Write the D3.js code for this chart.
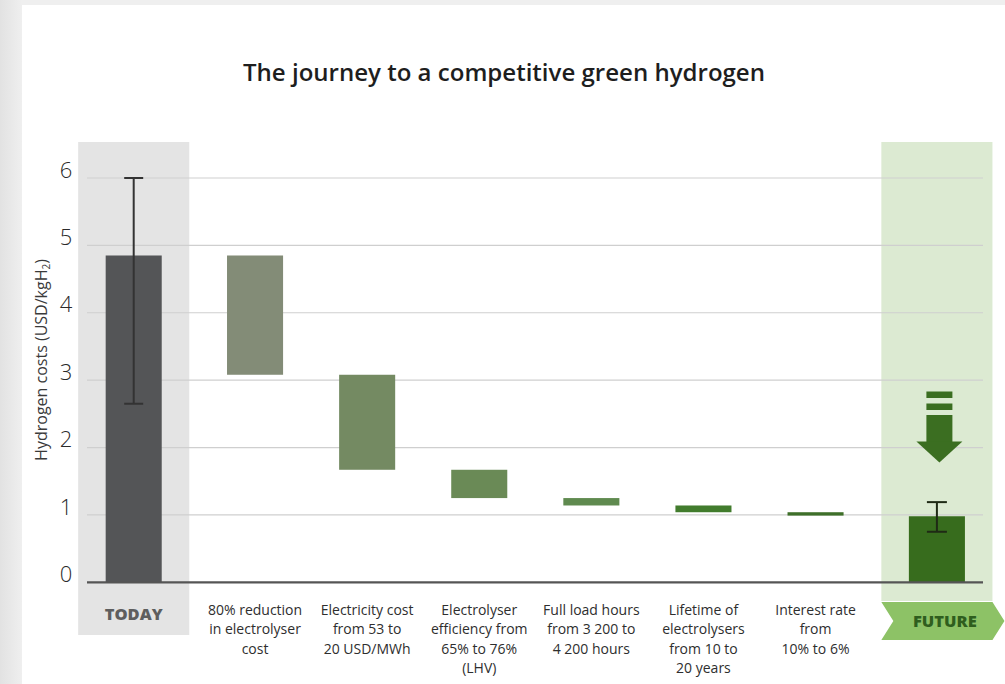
<!DOCTYPE html>
<html>
<head>
<meta charset="utf-8">
<script src="https://cdn.jsdelivr.net/npm/d3@7"></script>
<style>
  html, body { margin: 0; padding: 0; background: #ececec; }
  svg { display: block; }
</style>
</head>
<body>
<svg id="chart" width="1005" height="684"></svg>
<script>
// ---------- DATA ----------
const title = "The journey to a competitive green hydrogen";
const yTicks = [0, 1, 2, 3, 4, 5, 6];
const todayLabel = "TODAY";
const futureLabel = "FUTURE";
const todayValue = 4.85;
const todayRange = [2.65, 6.0];
const stepCategories = [
  ["80% reduction", "in electrolyser", "cost"],
  ["Electricity cost", "from 53 to", "20 USD/MWh"],
  ["Electrolyser", "efficiency from", "65% to 76%", "(LHV)"],
  ["Full load hours", "from 3 200 to", "4 200 hours"],
  ["Lifetime of", "electrolysers", "from 10 to", "20 years"],
  ["Interest rate", "from", "10% to 6%"]
];
const stepFrom = [4.85, 3.08, 1.67, 1.25, 1.14, 1.04];
const stepTo   = [3.08, 1.67, 1.25, 1.14, 1.04, 0.99];
const futureValue = 0.98;
const futureRange = [0.75, 1.19];

// ---------- STYLE ----------
const stepColors = ["#838c77", "#748a62", "#6a8a56", "#5f8a4f", "#427c2d", "#3e6f29"];
const todayColor = "#545557";
const futureColor = "#376c1d";
const font = "'Open Sans', 'Liberation Sans', sans-serif";

const svg = d3.select("#chart");
const W = 1005, H = 684;

// page background & white panel
const bg = svg.append("defs").append("linearGradient").attr("id", "lg").attr("x1", 0).attr("x2", 1);
bg.append("stop").attr("offset", 0).attr("stop-color", "#e2e2e2");
bg.append("stop").attr("offset", 1).attr("stop-color", "#efefef");
svg.append("rect").attr("width", W).attr("height", H).attr("fill", "#efefef");
svg.append("rect").attr("width", 22).attr("height", H).attr("fill", "url(#lg)");
svg.append("rect").attr("x", 22).attr("y", 5).attr("width", W - 22).attr("height", H - 5).attr("fill", "#ffffff");

// ---------- SCALES ----------
const y = d3.scaleLinear().domain([0, 6]).range([582.3, 178]);
const xMid = d3.scaleBand().domain(d3.range(stepCategories.length)).range([199, 871.6]).paddingInner(0.5).paddingOuter(0.25);
const step = xMid.step();
const bw = xMid.bandwidth();
const edgeStep = 130.6;
const todayCx = xMid.range()[0] - edgeStep / 2;
const futureCx = xMid.range()[1] + edgeStep / 2;
const panelW = step - 1;
const gridX0 = 87, gridX1 = 983;

// highlight bands
svg.append("rect").attr("x", todayCx - panelW / 2).attr("y", 142).attr("width", panelW)
  .attr("height", 635 - 142).attr("fill", "#e4e4e4");
svg.append("rect").attr("x", futureCx - panelW / 2).attr("y", 142).attr("width", panelW)
  .attr("height", 601 - 142).attr("fill", "#dcead2");

// title
svg.append("text").attr("x", 504).attr("y", 81).attr("text-anchor", "middle")
  .attr("font-family", font).attr("font-weight", 600).attr("font-size", 24)
  .attr("fill", "#1e1e1e").attr("textLength", 522).attr("lengthAdjust", "spacingAndGlyphs")
  .text(title);

// gridlines
svg.append("g").selectAll("line").data(yTicks.filter(d => d > 0)).join("line")
  .attr("x1", gridX0).attr("x2", gridX1)
  .attr("y1", d => y(d)).attr("y2", d => y(d))
  .attr("stroke", "#cfcfcf").attr("stroke-width", 1.2);

// tick labels
svg.append("g").selectAll("text").data(yTicks).join("text")
  .attr("x", 66).attr("y", d => y(d) - 8).attr("dy", "0.35em")
  .attr("text-anchor", "middle").attr("font-family", font).attr("font-weight", 300)
  .attr("font-size", 22).attr("fill", "#2a2a2a").text(d => d);

// y title
const yt = svg.append("text").attr("transform", "translate(47,360) rotate(-90)")
  .attr("text-anchor", "middle").attr("font-family", font).attr("font-weight", 400)
  .attr("font-size", 16).attr("fill", "#3a3a3a");
yt.append("tspan").text("Hydrogen costs (USD/kgH");
yt.append("tspan").attr("font-size", 10).attr("dy", 3).text("2");
yt.append("tspan").attr("dy", -3).text(")");

// today bar
svg.append("rect").attr("x", todayCx - bw / 2).attr("y", y(todayValue)).attr("width", bw)
  .attr("height", y(0) - y(todayValue)).attr("fill", todayColor);

// step (waterfall) bars
svg.append("g").selectAll("rect").data(stepCategories).join("rect")
  .attr("x", (d, i) => xMid(i))
  .attr("y", (d, i) => y(stepFrom[i]))
  .attr("width", bw)
  .attr("height", (d, i) => Math.max(2.5, y(stepTo[i]) - y(stepFrom[i])))
  .attr("fill", (d, i) => stepColors[i]);

// future bar
svg.append("rect").attr("x", futureCx - bw / 2).attr("y", y(futureValue)).attr("width", bw)
  .attr("height", y(0) - y(futureValue)).attr("fill", futureColor);

// error bars
function errBar(cx, r, capW, color, sw) {
  const g = svg.append("g").attr("stroke", color).attr("stroke-width", sw);
  g.append("line").attr("x1", cx).attr("x2", cx).attr("y1", y(r[0])).attr("y2", y(r[1]));
  g.append("line").attr("x1", cx - capW / 2).attr("x2", cx + capW / 2).attr("y1", y(r[0])).attr("y2", y(r[0]));
  g.append("line").attr("x1", cx - capW / 2).attr("x2", cx + capW / 2).attr("y1", y(r[1])).attr("y2", y(r[1]));
}
errBar(todayCx, todayRange, 19, "#333333", 2);
errBar(futureCx, futureRange, 20, "#1f2a15", 2);

// zero axis
svg.append("line").attr("x1", gridX0).attr("x2", gridX1).attr("y1", y(0)).attr("y2", y(0))
  .attr("stroke", "#555555").attr("stroke-width", 2.2);

// category labels
svg.append("g").selectAll("text").data(stepCategories).join("text")
  .attr("x", (d, i) => xMid(i) + bw / 2).attr("y", 615)
  .attr("text-anchor", "middle").attr("font-family", font).attr("font-size", 14)
  .attr("fill", "#2e2e2e")
  .each(function (d) {
    d3.select(this).selectAll("tspan").data(d).join("tspan")
      .attr("x", d3.select(this).attr("x")).attr("dy", (l, j) => j === 0 ? 0 : 19.3).text(l => l);
  });

// TODAY label
svg.append("text").attr("x", todayCx).attr("y", 620).attr("text-anchor", "middle")
  .attr("font-family", font).attr("font-weight", 800).attr("font-size", 16.5)
  .attr("fill", "#5e5e5e").text(todayLabel);

// FUTURE chevron
const fl = futureCx - panelW / 2, fr = futureCx + panelW / 2;
const ct = 602, cb = 640, cm = (ct + cb) / 2;
svg.append("path")
  .attr("d", `M${fl},${ct} L${fr},${ct} L${fr + 12},${cm} L${fr},${cb} L${fl},${cb} L${fl + 12},${cm} Z`)
  .attr("fill", "#8dc266");
svg.append("text").attr("x", futureCx + 8).attr("y", cm + 6).attr("text-anchor", "middle")
  .attr("font-family", font).attr("font-weight", 800).attr("font-size", 16.5)
  .attr("fill", "#2f5e1e").text(futureLabel);

// down arrow (decorative)
const ax = futureCx + 2.5;
const ag = svg.append("g").attr("fill", "#3b6e21");
ag.append("rect").attr("x", ax - 13).attr("y", 391.5).attr("width", 26).attr("height", 6.5);
ag.append("rect").attr("x", ax - 13).attr("y", 403.5).attr("width", 26).attr("height", 6.5);
ag.append("rect").attr("x", ax - 13).attr("y", 415).attr("width", 26).attr("height", 27);
ag.append("path").attr("d", `M${ax - 23},441.5 L${ax + 23},441.5 L${ax},462.5 Z`);
</script>
</body>
</html>
